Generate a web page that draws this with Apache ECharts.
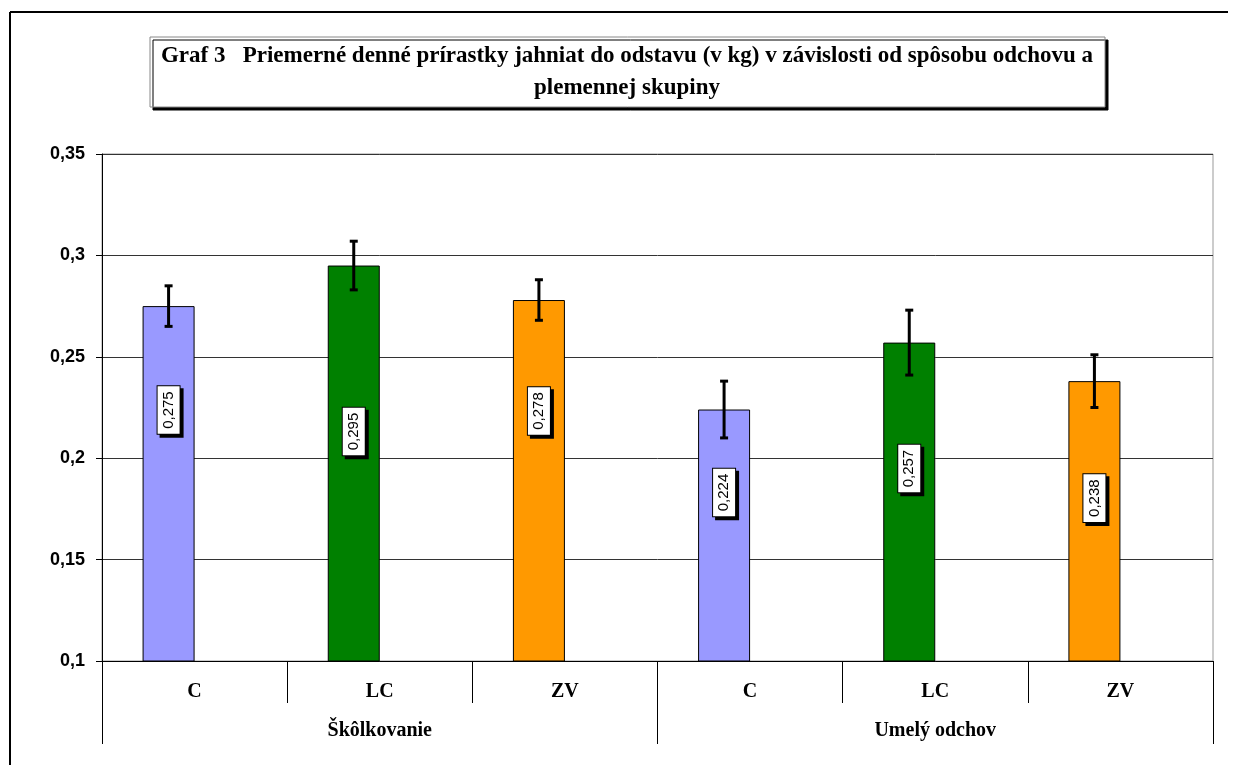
<!DOCTYPE html>
<html>
<head>
<meta charset="utf-8">
<script src="https://cdn.jsdelivr.net/npm/echarts@6/dist/echarts.min.js"></script>
<style>html,body{margin:0;padding:0;background:#fff}#c{width:1238px;height:765px}</style>
</head>
<body>
<div id="c"></div>
<script>
const titleLines = ['Graf 3   Priemerné denné prírastky jahniat do odstavu (v kg) v závislosti od spôsobu odchovu a', 'plemennej skupiny'];
const breeds = ['C', 'LC', 'ZV', 'C', 'LC', 'ZV'];
const groups = ['Škôlkovanie', 'Umelý odchov'];
const means = [0.275, 0.295, 0.278, 0.224, 0.257, 0.238];
const errLow = [0.265, 0.283, 0.268, 0.210, 0.241, 0.225];
const errHigh = [0.285, 0.307, 0.288, 0.238, 0.273, 0.251];
const yTickLabels = ['0,1', '0,15', '0,2', '0,25', '0,3', '0,35'];
const breedColors = {C: '#9999FF', LC: '#008000', ZV: '#FF9900'};
const labelOffsets = [104, 166, 111, 83, 126, 117];
const BAR_W = 52;

const chart = echarts.init(document.getElementById('c'), null, {renderer: 'canvas'});
const fmt = v => String(v).replace('.', ',');

const option = {
  backgroundColor: '#fff',
  animation: false,
  grid: {left: 102, right: 25, top: 154, bottom: 104, show: true, borderColor: '#999', borderWidth: 1, backgroundColor: 'transparent'},
  xAxis: [{
    type: 'category',
    data: breeds.map((b, i) => b + '#' + i),
    axisLine: {show: true, lineStyle: {color: '#000', width: 1}},
    axisTick: {show: true, interval: 0, length: 42, lineStyle: {color: '#000'}},
    axisLabel: {interval: 0, margin: 21, formatter: (v, i) => breeds[i],
      fontFamily: 'Liberation Serif', fontWeight: 'bold', fontSize: 20, color: '#000'},
    splitLine: {show: false}
  }, {
    type: 'category',
    position: 'bottom',
    data: groups,
    axisLine: {show: false},
    axisTick: {show: true, interval: 0, length: 83, lineStyle: {color: '#000'}},
    axisLabel: {interval: 0, margin: 60, fontFamily: 'Liberation Serif', fontWeight: 'bold', fontSize: 20, color: '#000'},
    splitLine: {show: false}
  }],
  yAxis: {
    type: 'value', min: 0.1, max: 0.35, interval: 0.05,
    axisLine: {show: true, lineStyle: {color: '#000'}},
    axisTick: {show: true, length: 6, lineStyle: {color: '#000'}},
    axisLabel: {margin: 17, formatter: (v) => yTickLabels[Math.round((v - 0.1) / 0.05)],
      fontFamily: 'Liberation Sans', fontWeight: 'bold', fontSize: 18, color: '#000'},
    splitLine: {show: true, lineStyle: {color: '#333', width: 1}}
  },
  graphic: [
    {type: 'line', shape: {x1: 10, y1: 12, x2: 1228, y2: 12}, style: {stroke: '#000', lineWidth: 2}},
    {type: 'line', shape: {x1: 10, y1: 12, x2: 10, y2: 765}, style: {stroke: '#000', lineWidth: 2}},
    {type: 'rect', shape: {x: 150, y: 37, width: 955, height: 70},
      style: {fill: '#fff', stroke: '#888', lineWidth: 1, shadowColor: '#000', shadowOffsetX: 3, shadowOffsetY: 3, shadowBlur: 0}},
    {type: 'text', x: 627, y: 56, style: {text: titleLines[0], x: 0, y: 0, textAlign: 'center', textVerticalAlign: 'middle',
      font: 'bold 23px "Liberation Serif"', fill: '#000'}},
    {type: 'text', x: 627, y: 88, style: {text: titleLines[1], x: 0, y: 0, textAlign: 'center', textVerticalAlign: 'middle',
      font: 'bold 23px "Liberation Serif"', fill: '#000'}}
  ],
  series: [{
    type: 'bar',
    xAxisIndex: 0,
    barWidth: BAR_W,
    barGap: '0%',
    data: means.map((v, i) => ({
      value: v,
      itemStyle: {color: breedColors[breeds[i]]},
      label: {position: ['50%', labelOffsets[i]]}
    })),
    itemStyle: {borderColor: '#000', borderWidth: 1},
    label: {
      show: true, rotate: 90, align: 'center', verticalAlign: 'middle',
      formatter: p => fmt(p.value),
      fontFamily: 'Liberation Sans', fontSize: 15, color: '#000',
      backgroundColor: '#fff', borderColor: '#000', borderWidth: 1,
      padding: [4, 5, 3, 5],
      shadowColor: '#000', shadowOffsetX: 3, shadowOffsetY: 3, shadowBlur: 0
    },
    z: 2
  }, {
    type: 'bar',
    xAxisIndex: 0,
    barWidth: BAR_W,
    barGap: '0%',
    data: means.map(() => null),
    silent: true
  }, {
    type: 'custom',
    xAxisIndex: 0,
    data: errLow.map((lo, i) => [i, lo, errHigh[i]]),
    renderItem: (params, api) => {
      const x = api.coord([api.value(0), api.value(1)])[0] - BAR_W / 2;
      const yLo = api.coord([api.value(0), api.value(1)])[1];
      const yHi = api.coord([api.value(0), api.value(2)])[1];
      const st = {stroke: '#000', lineWidth: 3};
      return {type: 'group', children: [
        {type: 'line', shape: {x1: x, y1: yLo, x2: x, y2: yHi}, style: st},
        {type: 'line', shape: {x1: x - 4, y1: yLo, x2: x + 4, y2: yLo}, style: st},
        {type: 'line', shape: {x1: x - 4, y1: yHi, x2: x + 4, y2: yHi}, style: st}
      ]};
    },
    z: 5
  }]
};
chart.setOption(option);
</script>
</body>
</html>
